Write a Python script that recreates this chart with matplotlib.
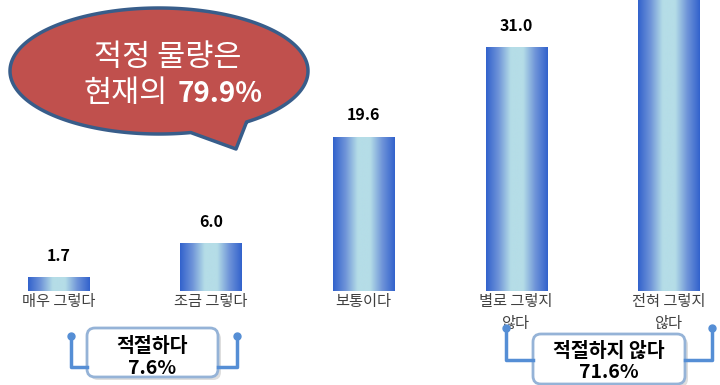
import matplotlib
matplotlib.use("Agg")
import matplotlib.pyplot as plt
import numpy as np
from matplotlib.colors import LinearSegmentedColormap
from matplotlib.patches import PathPatch, FancyBboxPatch
from matplotlib.path import Path

plt.rcParams['font.family'] = ['Noto Sans CJK KR', 'DejaVu Sans']

categories = ["매우 그렇다", "조금 그렇다", "보통이다", "별로 그렇지\n않다", "전혀 그렇지\n않다"]
values = [1.7, 6.0, 19.6, 31.0, 40.6]
group_names = ["적절하다", "적절하지 않다"]
group_totals = ["7.6%", "71.6%"]
bubble_line1 = "적정 물량은"
bubble_line2 = "현재의"
bubble_value = "79.9%"


def main():
    fig = plt.figure(figsize=(7.2, 3.85), dpi=100)
    ax = fig.add_axes([0, 0, 1, 1])
    x = np.arange(len(values))
    ymax = 37.12

    cmap = LinearSegmentedColormap.from_list(
        "bar", ["#3262CC", "#6E93D8", "#B5DDE7", "#B5DDE7", "#6E93D8", "#3262CC"])
    grad = np.linspace(0, 1, 256).reshape(1, -1)
    bars = ax.bar(x, values, width=0.4, color="none")
    for b, v in zip(bars, values):
        x0 = b.get_x()
        ax.imshow(grad, extent=[x0, x0 + b.get_width(), 0, v], aspect="auto",
                  cmap=cmap, zorder=2)
        # labels of bars running past the top are off the chart
        if v + 4 < ymax:
            ax.text(b.get_x() + b.get_width() / 2, v + 2.8, f"{v:.1f}", ha="center",
                    va="center", fontsize=11.5, fontweight="bold", color="black")
    for xi, c in zip(x, categories):
        ax.text(xi, -0.3, c, ha="center", va="top", fontsize=11, color="#404040",
                linespacing=1.35)

    ax.set_xlim(-0.3836, 4.3377)
    ax.set_ylim(-11.99, ymax)
    ax.axis("off")

    # overlay in pixel coordinates for callouts
    ov = fig.add_axes([0, 0, 1, 1])
    ov.set_xlim(0, 720)
    ov.set_ylim(385, 0)
    ov.axis("off")

    # speech bubble
    cx, cy, a, bb = 159, 71, 149, 63
    th = np.linspace(0, 2 * np.pi, 400)
    th1, th2 = np.radians(54), np.radians(77.7)
    pts = []
    tip_added = False
    for t in th:
        if th1 < t < th2:
            if not tip_added:
                pts.append((cx + a * np.cos(th1), cy + bb * np.sin(th1)))
                pts.append((236, 149))
                pts.append((cx + a * np.cos(th2), cy + bb * np.sin(th2)))
                tip_added = True
            continue
        pts.append((cx + a * np.cos(t), cy + bb * np.sin(t)))
    pts.append(pts[0])
    codes = [Path.MOVETO] + [Path.LINETO] * (len(pts) - 2) + [Path.CLOSEPOLY]
    ov.add_patch(PathPatch(Path(pts, codes), facecolor="#C0504D", edgecolor="#385D8A",
                           lw=2.5, joinstyle="round"))
    ov.text(168, 57, bubble_line1, ha="center", va="center", fontsize=22, color="white")
    ov.text(168, 94, bubble_line2, ha="right", va="center", fontsize=22, color="white")
    ov.text(178, 94, bubble_value, ha="left", va="center", fontsize=20,
            color="white", fontweight="bold")

    # group brackets
    brackets = [
        dict(l=71, r=237, top=336, low=367, box=(87, 328, 218, 377), ty=(346, 368)),
        dict(l=506, r=712, top=328, low=360, box=(533, 334, 685, 384), ty=(351, 373)),
    ]
    col = "#558ED5"
    for br, name, tot in zip(brackets, group_names, group_totals):
        bx0, by0, bx1, by1 = br["box"]
        ov.plot([br["l"], br["l"], bx0], [br["top"], br["low"], br["low"]], color=col, lw=2.5)
        ov.plot([br["r"], br["r"], bx1], [br["top"], br["low"], br["low"]], color=col, lw=2.5)
        ov.plot([br["l"], br["r"]], [br["top"], br["top"]], "o", color=col, ms=5)
        ov.add_patch(FancyBboxPatch((bx0 + 3, by0 + 3), bx1 - bx0, by1 - by0,
                                    boxstyle="round,pad=0,rounding_size=8",
                                    facecolor="#C8C8C8", edgecolor="none", alpha=0.6))
        ov.add_patch(FancyBboxPatch((bx0, by0), bx1 - bx0, by1 - by0,
                                    boxstyle="round,pad=0,rounding_size=8",
                                    facecolor="white", edgecolor="#95B3D7", lw=2))
        cxb = (bx0 + bx1) / 2
        ov.text(cxb, br["ty"][0], name, ha="center", va="center", fontsize=14,
                fontweight="bold", color="black")
        ov.text(cxb, br["ty"][1], tot, ha="center", va="center", fontsize=14,
                fontweight="bold", color="black")

    fig.savefig("out.png", dpi=100)


main()
